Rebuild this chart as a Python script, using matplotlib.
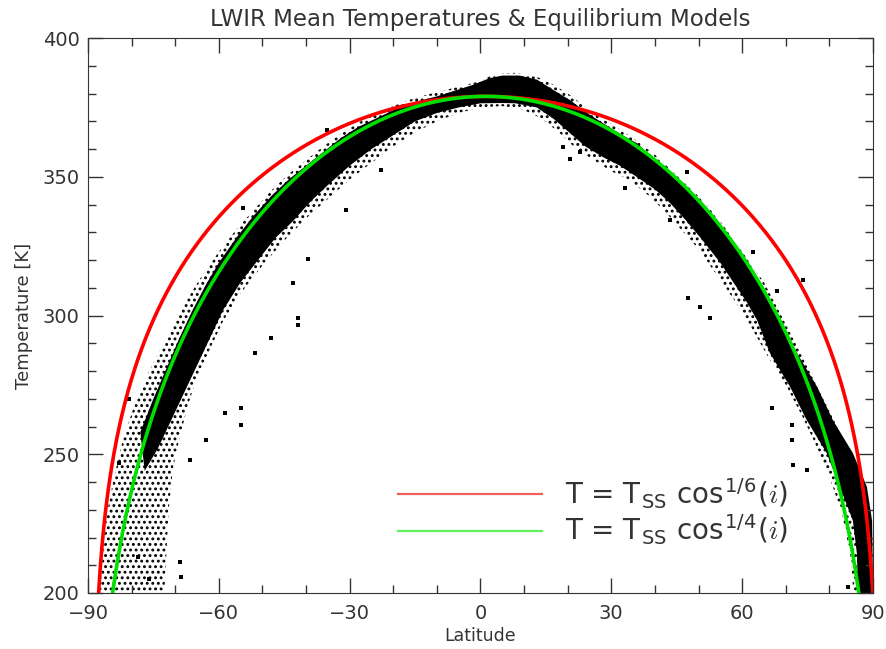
import numpy as np
import matplotlib.pyplot as plt
from matplotlib.ticker import MultipleLocator
from matplotlib.lines import Line2D

plt.rcParams['mathtext.fontset'] = 'cm'
plt.rcParams['hatch.linewidth'] = 1.3

# model parameters
t_ss = 379.0      # subsolar temperature [K]
lat_ss = 1.2      # subsolar latitude [deg]

# outline of the dense part of the measured band
# (upper edge left -> right, then lower edge right -> left)
core_lat = [-78, -75, -72, -69, -66, -63, -60, -56, -52, -48, -44, -40, -36, -32, -28,
            -24, -20, -15, -10, -5, -2, 2, 5, 9, 13, 17, 20.5, 24, 28, 32, 36, 40, 43.5,
            47, 51, 55, 58.7, 62, 65, 68.7, 72.6, 77.2, 80.8, 85.4, 88.6, 89.8, 89.9, 89.9,
            86.6, 86.3, 85.4, 82.4, 79.4, 74.8, 71, 66.4, 63.4, 61, 58.7, 55, 51, 47, 43.5,
            40, 35.8, 32, 28.2, 24, 20.5, 16.7, 12.9, 8, 5, 0, -5, -10, -15, -20, -25, -30,
            -35, -39, -43, -47, -51, -55, -59, -62, -65, -68, -71, -74, -77]
core_temp = [258, 270, 281, 292, 302, 311, 319, 328, 336, 343, 349, 354, 359, 364, 368,
             371, 374, 377, 379, 381.5, 383, 385.5, 386.5, 386.5, 385, 381, 377.7, 373.5,
             369.4, 365.5, 362, 356, 351.4, 346, 340.5, 332.5, 324.7, 317, 310, 298.4,
             286.4, 274.3, 262.3, 250.4, 238.3, 226, 214, 200,
             200, 214.4, 226, 238.3, 250.4, 262.3, 274.3, 286.4, 298.4, 305, 310.3, 319,
             327, 334.5, 340.5, 345.5, 350, 354, 357, 361, 365.8, 371, 375, 376.5, 376.6,
             376.5, 375, 373, 370, 365, 360, 354, 347, 341, 334, 328, 320, 312, 302, 292,
             282, 272, 262, 252, 244]

# outline of the sparser halo of points around it
halo_lat = [-87.5, -86.5, -85.5, -84, -82, -79.5, -76, -72, -68, -64, -60, -56, -52, -48,
            -44, -40, -36, -32, -28, -24, -20, -15, -10, -5, 0, 3, 8, 13, 17, 21, 25, 30,
            35, 40, 45, 50, 55, 60, 65, 70, 74, 78, 81, 84, 86.5, 88.5, 89.9, 89.9,
            85.5, 85, 83, 80, 77, 74, 70, 66, 62, 58, 54, 50, 46, 42, 38, 34, 30, 26, 22,
            18, 14, 10, 5, 0, -5, -10, -15, -20, -25, -30, -35, -40, -45, -50, -55, -59,
            -62, -65, -67, -69, -70.5, -71.5, -72, -72.5]
halo_temp = [200, 215, 230, 242, 255, 267, 280, 292, 304, 314, 323, 331, 338, 345, 351,
             356, 361, 365.5, 369.5, 373, 375.5, 378.5, 380.5, 382.5, 384.5, 387, 387.5,
             386, 383, 379, 374, 369, 364, 358, 350.5, 343, 334, 323, 312, 297, 286, 273,
             263, 252, 243, 232, 220, 200,
             200, 212, 228, 242, 253, 263, 275, 285, 296, 306, 315, 324, 331, 338, 344,
             349, 352, 356, 360, 366, 371, 374, 375.5, 375, 373, 370, 366, 361, 355, 349,
             342, 335, 327, 318, 308, 298, 288, 278, 268, 256, 245, 230, 215, 200]

# isolated points away from the band
pt_lat = [-41.8, -41.8, -30.8, -22.7, -54.5, -43, -39.5, -35.2, -55, -55, -58.6, -63,
          -68.9, -68.7, -66.6, -51.7, -48, 33.1, 20.5, 22.8, 19, 47.6, 50.3, 52.6, 43.5,
          47.3, 74, 62.5, 68, 66.8, 71.6, 74.8, 84.3, 71.4, 71.4, -80.5, -83, -76, -78.5]
pt_temp = [299, 296.6, 338, 352.4, 338.7, 311.8, 320.3, 367, 266.7, 260.5, 265, 255,
           211.3, 205.9, 248, 286.5, 292, 346, 356.4, 359, 360.7, 306.3, 303, 299, 334.4,
           351.8, 312.8, 323, 309, 266.7, 246, 244.3, 202.2, 260.5, 255, 270, 247, 205, 213]

lat = np.linspace(-90, 90, 1441)
cos_i = np.cos(np.radians(lat - lat_ss))
cos_i = np.where(cos_i > 0, cos_i, np.nan)
t_16 = t_ss * cos_i ** (1 / 6)
t_14 = t_ss * cos_i ** (1 / 4)

fig = plt.figure(figsize=(8.86, 6.49), dpi=100)
ax = fig.add_axes([0.0993, 0.0863, 0.886, 0.855])

ax.fill(halo_lat, halo_temp, facecolor='none', edgecolor='black', hatch='...', lw=0)
ax.fill(core_lat, core_temp, facecolor='black', lw=0)
ax.plot(pt_lat, pt_temp, 's', color='black', ms=2.2, mew=0)

ax.plot(lat, t_16, color='#ff0000', lw=2.6)
ax.plot(lat, t_14, color='#00e000', lw=2.6)

ax.set_xlim(-90, 90)
ax.set_ylim(200, 400)
ax.xaxis.set_major_locator(MultipleLocator(30))
ax.xaxis.set_minor_locator(MultipleLocator(10))
ax.yaxis.set_major_locator(MultipleLocator(50))
ax.yaxis.set_minor_locator(MultipleLocator(10))
ax.tick_params(which='both', direction='in', top=True, right=True, colors='#333333',
               labelsize=14)
ax.tick_params(which='major', length=11, width=1, pad=6)
ax.tick_params(which='minor', length=6, width=1)
ax.tick_params(axis='x', pad=8)
for s in ax.spines.values():
    s.set_color('#333333')

ax.set_xlabel('Latitude', fontsize=12.5, color='#333333', labelpad=3)
ax.set_ylabel('Temperature [K]', fontsize=13, color='#333333', labelpad=7)
ax.set_title('LWIR Mean Temperatures & Equilibrium Models', fontsize=16.5,
             color='#333333', pad=9)

handles = [Line2D([], [], color='#f06060', lw=1.6), Line2D([], [], color='#60f060', lw=1.6)]
labels = [r'T = T$_\mathregular{SS}$ cos$^\mathregular{1/6}$($i$)',
          r'T = T$_\mathregular{SS}$ cos$^\mathregular{1/4}$($i$)']
ax.legend(handles, labels, loc='lower left', bbox_to_anchor=(0.363, 0.037),
          frameon=False, fontsize=20, handlelength=5.2, handletextpad=0.8,
          labelspacing=0.1, labelcolor='#333333')

plt.savefig('out.png', dpi=100)
